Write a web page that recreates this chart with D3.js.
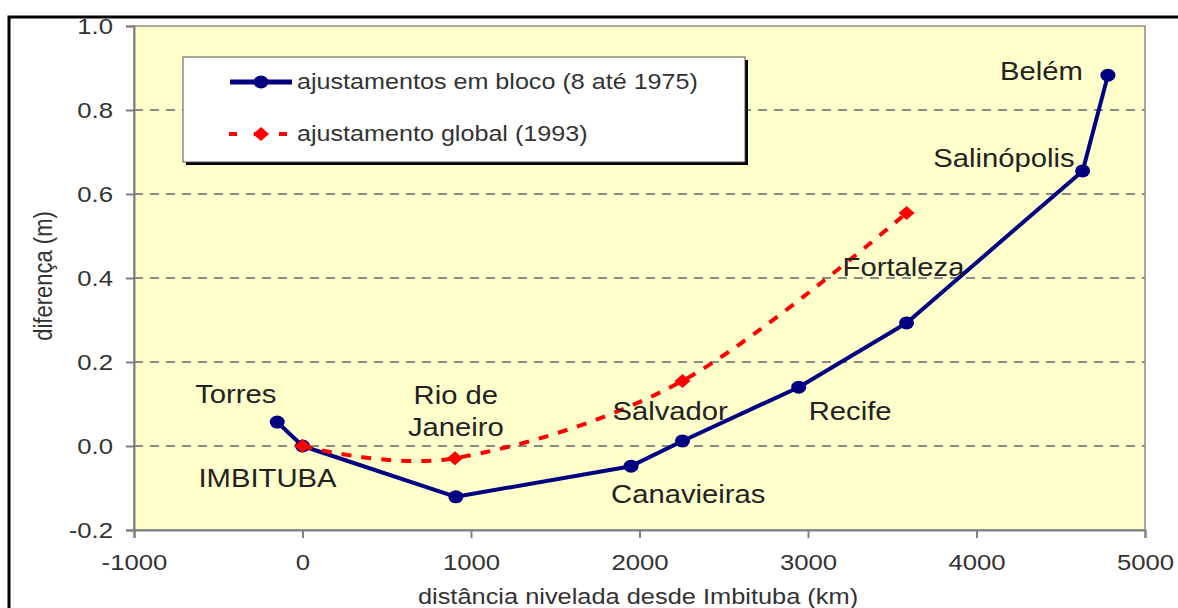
<!DOCTYPE html>
<html>
<head>
<meta charset="utf-8">
<script src="https://cdn.jsdelivr.net/npm/d3@7"></script>
<style>
    body { margin: 0; background: #fff; }
    svg text { font-family: "Liberation Sans", Arial, sans-serif; }
</style>
</head>
<body>
<svg id="chart" width="1178" height="608"></svg>
<script>
// data
var stations = ["Torres", "IMBITUBA", "Rio de Janeiro", "Canavieiras", "Salvador", "Recife", "Fortaleza", "Salinópolis", "Belém"];
var blocoDist = [-150, 0, 910, 1950, 2255, 2945, 3585, 4630, 4780];
var blocoDiff = [0.057, 0, -0.121, -0.048, 0.012, 0.14, 0.293, 0.655, 0.883];

var globalStations = ["IMBITUBA", "Rio de Janeiro", "Salvador", "Fortaleza"];
var globalDist = [0, 905, 2255, 3585];
var globalDiff = [0, -0.029, 0.155, 0.555];

var xTicks = [-1000, 0, 1000, 2000, 3000, 4000, 5000];
var yTicks = [-0.2, 0.0, 0.2, 0.4, 0.6, 0.8, 1.0];
var gridValues = [0.0, 0.2, 0.4, 0.6, 0.8];

var seriesNames = ["ajustamentos em bloco (8 até 1975)", "ajustamento global (1993)"];
var xTitle = "distância nivelada desde Imbituba (km)";
var yTitle = "diferença (m)";

// label placement (pixels relative to each blue point)
var labelPos = {
    "Torres": [{t: "Torres", dx: -82, dy: -19, a: "start"}],
    "IMBITUBA": [{t: "IMBITUBA", dx: -104, dy: 41, a: "start"}],
    "Rio de Janeiro": [{t: "Rio de", dx: 0, dy: -93, a: "middle"}, {t: "Janeiro", dx: 0, dy: -61, a: "middle"}],
    "Canavieiras": [{t: "Canavieiras", dx: -20, dy: 37, a: "start"}],
    "Salvador": [{t: "Salvador", dx: -70, dy: -21, a: "start"}],
    "Recife": [{t: "Recife", dx: 10, dy: 33, a: "start"}],
    "Fortaleza": [{t: "Fortaleza", dx: -64, dy: -47, a: "start"}],
    "Salinópolis": [{t: "Salinópolis", dx: -8, dy: -4, a: "end"}],
    "Belém": [{t: "Belém", dx: -25, dy: 5, a: "end"}]
};

(function () {
    var SX = 1.17; // the picture is a bit wider than tall, text looks stretched

    var svg = d3.select("#chart");
    var pLeft = 134, pRight = 1145, pTop = 26, pBottom = 530;

    var x = d3.scaleLinear().domain([-1000, 5000]).range([pLeft, pRight]);
    var y = d3.scaleLinear().domain([-0.2, 1.0]).range([pBottom, pTop]);

    // outer frame
    svg.append("rect")
        .attr("x", 9).attr("y", 17)
        .attr("width", 1300).attr("height", 800)
        .attr("fill", "none").attr("stroke", "#000").attr("stroke-width", 3);

    // plot area
    svg.append("rect")
        .attr("x", pLeft).attr("y", pTop)
        .attr("width", pRight - pLeft).attr("height", pBottom - pTop)
        .attr("fill", "#FFFFCC")
        .attr("stroke", "#8a8a8a").attr("stroke-width", 1.5);

    svg.append("g")
        .selectAll("line")
        .data(gridValues)
        .enter()
        .append("line")
        .attr("x1", pLeft).attr("x2", pRight)
        .attr("y1", function (d) { return y(d); })
        .attr("y2", function (d) { return y(d); })
        .attr("stroke", "#8c8c84")
        .attr("stroke-width", 2)
        .attr("stroke-dasharray", "9,7");

    // axes
    var yAxis = svg.append("g")
        .attr("transform", "translate(" + pLeft + ",0)")
        .call(d3.axisLeft(y).tickValues(yTicks).tickSize(8)
            .tickFormat(function (d) { return d.toFixed(1); }));
    var xAxis = svg.append("g")
        .attr("transform", "translate(0," + pBottom + ")")
        .call(d3.axisBottom(x).tickValues(xTicks).tickSize(8)
            .tickFormat(function (d) { return String(d); }));

    [yAxis, xAxis].forEach(function (ax) {
        ax.select(".domain").attr("stroke", "#808080").attr("stroke-width", 2);
        ax.selectAll(".tick line").attr("stroke", "#808080").attr("stroke-width", 2);
        ax.selectAll(".tick text")
            .attr("font-size", 22)
            .attr("fill", "#333")
            .attr("font-family", "Liberation Sans, Arial, sans-serif");
    });
    yAxis.selectAll(".tick text")
        .attr("x", null)
        .attr("dy", "0.35em")
        .attr("transform", "translate(-21,0) scale(" + SX + ",1)");
    xAxis.selectAll(".tick text")
        .attr("y", null).attr("dy", null)
        .attr("transform", "translate(0,40) scale(" + SX + ",1)");

    function stretchedText(g, txt, px, py, size, anchor) {
        return g.append("text")
            .attr("transform", "translate(" + px + "," + py + ") scale(" + SX + ",1)")
            .attr("text-anchor", anchor)
            .attr("font-size", size)
            .attr("fill", "#222")
            .text(txt);
    }

    stretchedText(svg, xTitle, 638, 604, 21.7, "middle").attr("fill", "#333");
    svg.append("text")
        .attr("transform", "translate(52,276) scale(" + SX + ",1) rotate(-90)")
        .attr("text-anchor", "middle")
        .attr("font-size", 22)
        .attr("fill", "#333")
        .text(yTitle);

    // series
    var bloco = stations.map(function (s, i) { return {name: s, d: blocoDist[i], v: blocoDiff[i]}; });
    var global = globalStations.map(function (s, i) { return {name: s, d: globalDist[i], v: globalDiff[i]}; });

    var lineStraight = d3.line()
        .x(function (d) { return x(d.d); })
        .y(function (d) { return y(d.v); });
    var lineSmooth = d3.line()
        .x(function (d) { return x(d.d); })
        .y(function (d) { return y(d.v); })
        .curve(d3.curveCardinal.tension(0));

    svg.append("path")
        .datum(bloco)
        .attr("d", lineStraight)
        .attr("fill", "none")
        .attr("stroke", "#000080")
        .attr("stroke-width", 4)
        .attr("stroke-linejoin", "round");

    svg.append("g")
        .selectAll("ellipse")
        .data(bloco)
        .enter()
        .append("ellipse")
        .attr("cx", function (d) { return x(d.d); })
        .attr("cy", function (d) { return y(d.v); })
        .attr("rx", 7.5).attr("ry", 6.5)
        .attr("fill", "#000080");

    svg.append("path")
        .datum(global)
        .attr("d", lineSmooth)
        .attr("fill", "none")
        .attr("stroke", "#FF0000")
        .attr("stroke-width", 4)
        .attr("stroke-dasharray", "10,10");

    var diamond = "M0,-7 L8,0 L0,7 L-8,0 Z";
    svg.append("g")
        .selectAll("path")
        .data(global)
        .enter()
        .append("path")
        .attr("d", diamond)
        .attr("transform", function (d) { return "translate(" + x(d.d) + "," + y(d.v) + ")"; })
        .attr("fill", "#FF0000");

    // station names
    var labels = svg.append("g");
    bloco.forEach(function (d) {
        (labelPos[d.name] || []).forEach(function (l) {
            stretchedText(labels, l.t, x(d.d) + l.dx, y(d.v) + l.dy, 25, l.a);
        });
    });

    // legend
    var lg = svg.append("g");
    lg.append("rect")
        .attr("x", 186).attr("y", 60).attr("width", 562).attr("height", 105)
        .attr("fill", "#000");
    lg.append("rect")
        .attr("x", 183).attr("y", 57).attr("width", 562).attr("height", 105)
        .attr("fill", "#fff").attr("stroke", "#555").attr("stroke-width", 1);

    lg.append("line")
        .attr("x1", 230).attr("x2", 292).attr("y1", 82).attr("y2", 82)
        .attr("stroke", "#000080").attr("stroke-width", 5);
    lg.append("ellipse")
        .attr("cx", 261).attr("cy", 82).attr("rx", 7.5).attr("ry", 6.5)
        .attr("fill", "#000080");
    lg.append("line")
        .attr("x1", 229).attr("x2", 292).attr("y1", 134).attr("y2", 134)
        .attr("stroke", "#FF0000").attr("stroke-width", 4)
        .attr("stroke-dasharray", "8,17");
    lg.append("path")
        .attr("d", diamond)
        .attr("transform", "translate(261,134)")
        .attr("fill", "#FF0000");

    stretchedText(lg, seriesNames[0], 297, 89, 21.5, "start").attr("fill", "#333");
    stretchedText(lg, seriesNames[1], 297, 141, 21.5, "start").attr("fill", "#333");
})();
</script>
</body>
</html>
